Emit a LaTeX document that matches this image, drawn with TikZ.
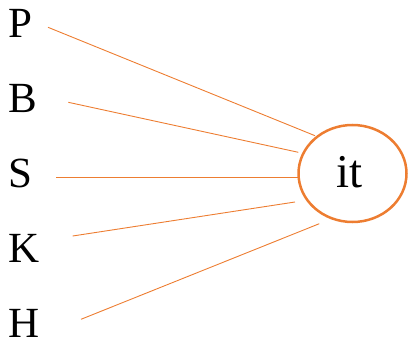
\documentclass[tikz,border=0pt]{standalone}
\usepackage{fontspec}
\setmainfont{Liberation Serif}
\usepackage{xcolor}
\usetikzlibrary{shapes.geometric}
\definecolor{accent}{HTML}{ED7D31}
\tikzset{
  letter/.style={anchor=base west,inner sep=0pt,font=\fontsize{43}{43}\selectfont},
  word/.style={draw=accent,line width=2.5pt,ellipse,minimum width=108pt,minimum height=97pt,inner sep=0pt,font=\fontsize{47}{47}\selectfont},
  link/.style={draw=accent,line width=0.9pt},
}

\begin{document}
\begin{tikzpicture}[x=1pt,y=-1pt]
\useasboundingbox (0,0) rectangle (409,347);
\node[word] (it) at (352.5,173.5) {};
\node[anchor=base,inner sep=0pt,font=\fontsize{47}{47}\selectfont] (itw) at (349.5,187.5) {it};
\foreach \n/\y/\sx/\sy/\ex/\ey in {P/38/48/27.3/315/135.7,B/113/68.3/102.3/298.3/152.3,S/187.5/56.3/177.5/297.5/177.5,K/262/72.7/236/295/202,H/337/81/319.3/319.3/223.7} {
  \node[letter] (\n) at (8,\y) {\n};
  \coordinate (\n s) at (\sx,\sy);
  \coordinate (\n e) at (\ex,\ey);
  \draw[link] (\n s)--(\n e);
}
\end{tikzpicture}
\end{document}
